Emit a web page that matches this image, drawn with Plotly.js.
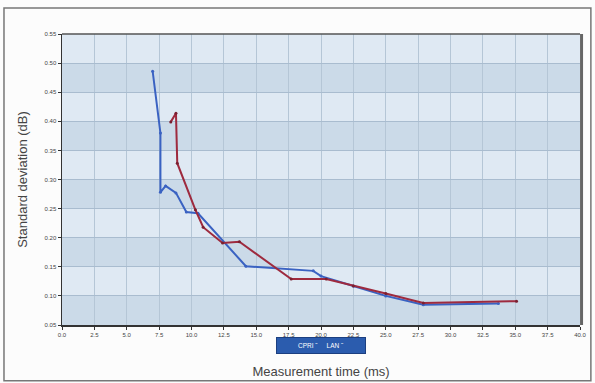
<!DOCTYPE html>
<html><head><meta charset="utf-8">
<script src="https://cdn.plot.ly/plotly-3.0.1.min.js"></script>
<style>html,body{margin:0;padding:0;background:#fff;}#chart{width:595px;height:383px;}</style>
</head><body><div id="chart"></div>
<script>
// Series data
const cpriX = [7.0, 7.6, 7.6, 8.0, 8.8, 9.6, 10.5, 14.2, 19.4, 20.0, 22.5, 25.0, 27.9, 33.7];
const cpriY = [0.486, 0.380, 0.278, 0.289, 0.277, 0.244, 0.242, 0.151, 0.143, 0.134, 0.117, 0.100, 0.085, 0.087];
const lanX = [8.4, 8.8, 8.9, 10.3, 10.9, 12.4, 13.7, 17.7, 20.4, 22.5, 25.0, 27.9, 35.1];
const lanY = [0.399, 0.414, 0.328, 0.248, 0.218, 0.191, 0.193, 0.129, 0.129, 0.117, 0.104, 0.088, 0.091];
const seriesNames = ["CPRI", "LAN"];
const xTicks = [0, 2.5, 5, 7.5, 10, 12.5, 15, 17.5, 20, 22.5, 25, 27.5, 30, 32.5, 35, 37.5, 40];
const yTicks = [0.05, 0.10, 0.15, 0.20, 0.25, 0.30, 0.35, 0.40, 0.45, 0.50, 0.55];

const traces = [
  {x: cpriX, y: cpriY, name: seriesNames[0], mode: "lines+markers",
   line: {color: "#3a62c2", width: 2}, marker: {size: 3, color: "#3a62c2"}},
  {x: lanX, y: lanY, name: seriesNames[1], mode: "lines+markers",
   line: {color: "#9e2a3e", width: 2}, marker: {size: 3, color: "#7a1f30"}}
];

// alternating horizontal bands
const shapes = [];
for (let i = 0; i < yTicks.length - 1; i++) {
  if (i % 2 === 0) {
    shapes.push({type: "rect", xref: "paper", yref: "y", x0: 0, x1: 1, y0: yTicks[i], y1: yTicks[i+1],
      fillcolor: "#cbdae8", line: {width: 0}, layer: "below"});
  }
}
// outer frame
shapes.push({type: "rect", xref: "paper", yref: "paper", x0: -0.112, x1: 1.021, y0: -0.192, y1: 1.089,
  line: {color: "#777", width: 1.5}, fillcolor: "rgba(0,0,0,0)", layer: "below"});
// right dark edge
shapes.push({type: "line", xref: "paper", yref: "paper", x0: 1.003, x1: 1.003, y0: 0, y1: 1,
  line: {color: "#666", width: 3}});
// top border line
shapes.push({type: "line", xref: "paper", yref: "paper", x0: 0, x1: 1, y0: 1, y1: 1,
  line: {color: "#555", width: 1.5}});

// compact legend pill built from the series names
const legendText = seriesNames.map(n => n + "&nbsp;\u02DC").join("&nbsp;&nbsp;&nbsp;&nbsp;&nbsp;");

const tickFont = {family: "Liberation Sans, Arial", size: 6, color: "#444"};
const layout = {
  width: 595, height: 383,
  margin: {l: 62, r: 15, t: 34, b: 58},
  paper_bgcolor: "#fcfcfc", plot_bgcolor: "#dfe9f3",
  showlegend: false,
  annotations: [{xref: "paper", yref: "paper", x: 0.5, y: -0.072, xanchor: "center", yanchor: "middle",
    text: legendText, showarrow: false, bgcolor: "#2b5cae", bordercolor: "#1c3f80", borderwidth: 1,
    borderpad: 4, width: 80, font: {family: "Liberation Sans, Arial", size: 6.5, color: "#ffffff"}}],
  xaxis: {range: [0, 40], tickvals: xTicks, ticktext: xTicks.map(v => v.toFixed(1)),
    tickfont: tickFont, showgrid: true, gridcolor: "#b5c6d6", gridwidth: 1,
    showline: true, linecolor: "#333", linewidth: 1.5, ticks: "outside", ticklen: 3, tickcolor: "#333",
    zeroline: false, automargin: false,
    title: {text: "Measurement time (ms)", standoff: 30,
      font: {family: "Liberation Sans, Arial", size: 13, color: "#444"}}},
  yaxis: {range: [0.05, 0.55], tickvals: yTicks, ticktext: yTicks.map(v => v.toFixed(2)),
    tickfont: tickFont, showgrid: true, gridcolor: "#a9bccf", gridwidth: 1,
    showline: true, linecolor: "#333", linewidth: 1.5, ticks: "outside", ticklen: 3, tickcolor: "#333",
    zeroline: false, automargin: false,
    title: {text: "Standard deviation (dB)", standoff: 14,
      font: {family: "Liberation Sans, Arial", size: 13, color: "#444"}}},
  shapes: shapes
};

Plotly.newPlot("chart", traces, layout, {displayModeBar: false, staticPlot: true});
</script></body></html>
